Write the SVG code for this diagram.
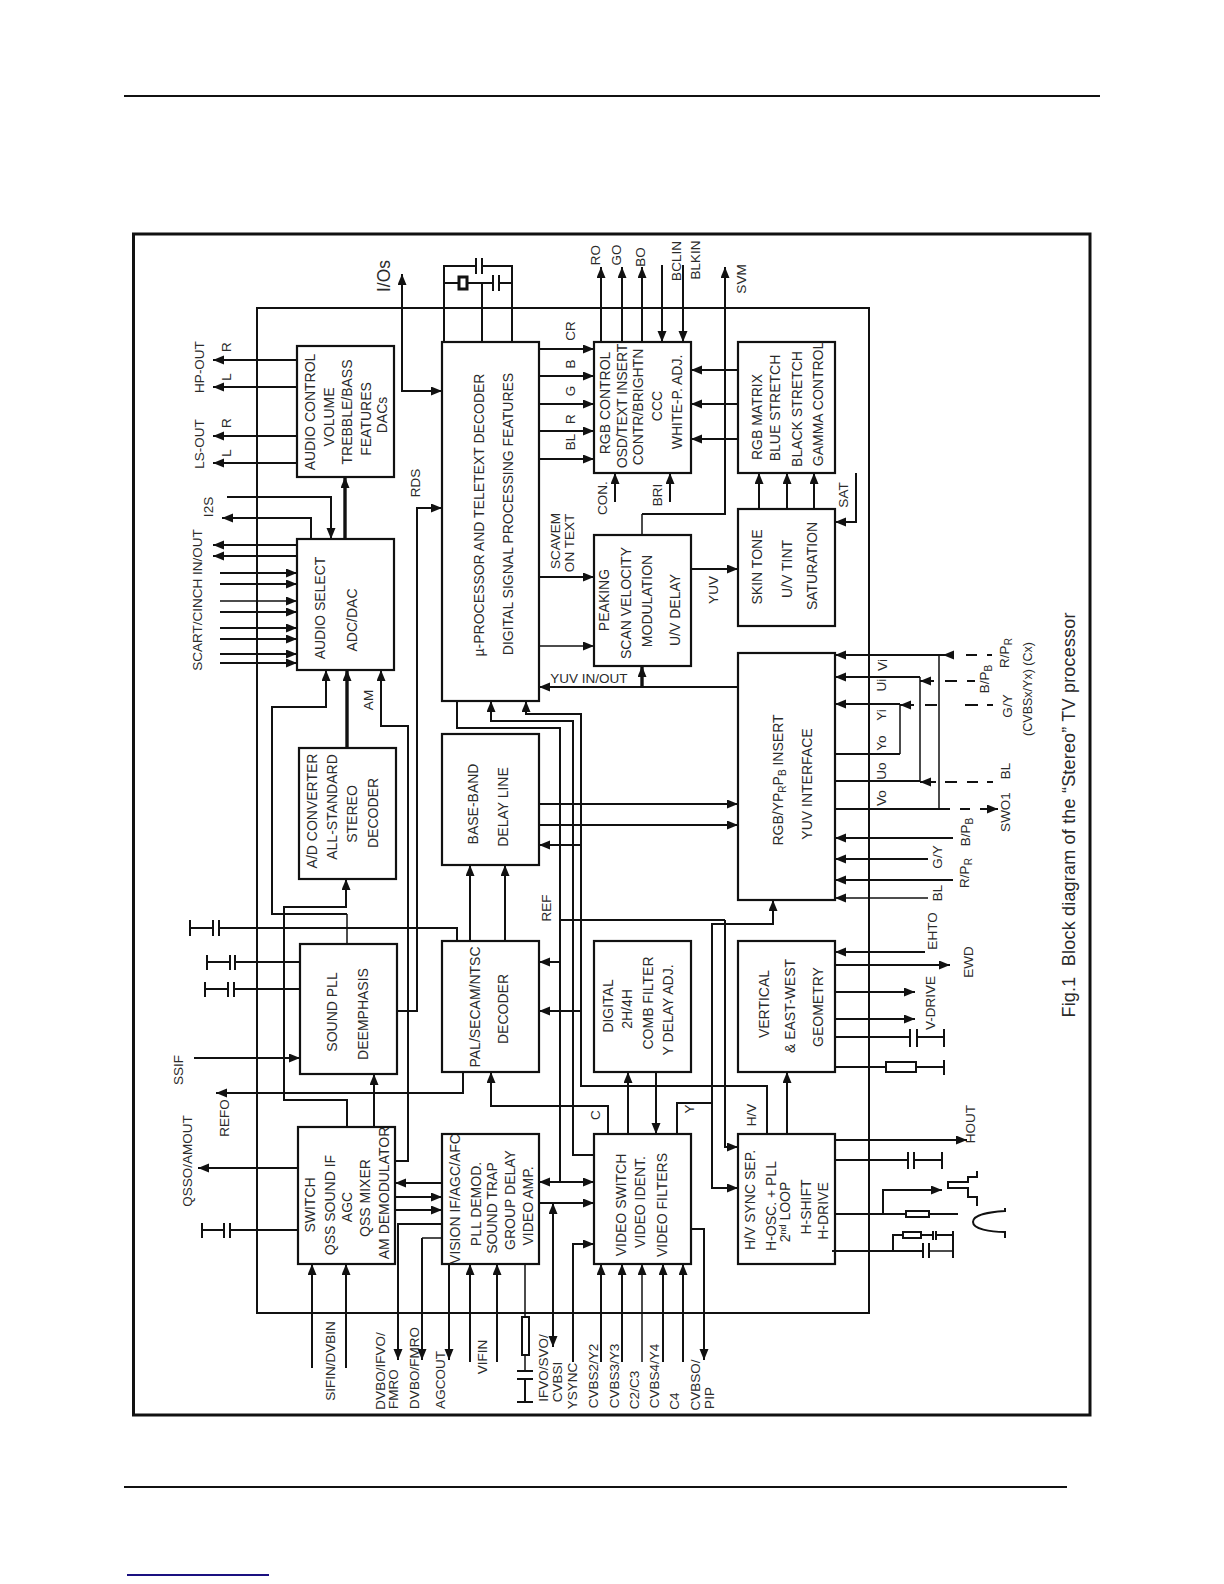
<svg xmlns="http://www.w3.org/2000/svg" width="1224" height="1584" viewBox="0 0 1224 1584">
<style>
text{font-family:"Liberation Sans",Arial,sans-serif;font-size:14px;fill:#2a2a2a;text-anchor:middle}
text.l{font-size:13.5px}
text.s{font-size:12.5px}
.box{fill:none;stroke:#111;stroke-width:2.2}
path{fill:none;stroke:#111;stroke-width:2}
.n{stroke-width:1.5}
.k{stroke-width:3.4}
.a{marker-end:url(#h)}
.b{marker-start:url(#h);marker-end:url(#h)}
.c{fill:#fff;stroke:#111;stroke-width:2}
.r{fill:none;stroke:#111;stroke-width:2}
</style>
<defs>
<marker id="h" markerUnits="userSpaceOnUse" markerWidth="12" markerHeight="10" refX="11" refY="4.500" orient="auto-start-reverse"><polygon points="0,0 11,4.500 0,9" fill="#111"/></marker>
</defs>
<rect width="1224" height="1584" fill="#fff"/>
<g id="page-rules">
<path d="M124 96H1100"/>
<path d="M124 1487H1067"/>
<path d="M127 1575H269" style="stroke:#1a1080"/>
</g>
<rect id="frame" x="133.500" y="234" width="956.500" height="1181" fill="none" stroke="#111" stroke-width="3"/>
<rect id="chip" x="257" y="308" width="612" height="1005" fill="none" stroke="#111" stroke-width="2"/>

<g id="connectors">
<path class="a" d="M297 360H213"/><path class="a" d="M297 387H213"/><path class="a" d="M297 436H213"/><path class="a" d="M297 463H213"/>
<path class="k a" d="M345 539V477"/>
<path class="a" d="M227 497H331V539"/>
<path class="a" d="M311 539V518H222"/>
<path class="a" d="M297 545H213"/><path class="a" d="M297 556H213"/>
<path class="a" d="M220 573H297"/><path class="a" d="M220 584H297"/><path class="n a" d="M220 601H297"/><path class="a" d="M220 612H297"/>
<path class="a" d="M220 628H297"/><path class="a" d="M220 639H297"/><path class="a" d="M220 654H297"/><path class="a" d="M220 663H297"/>
<path class="n" d="M347 944V914"/><path class="a" d="M347 914H272V707H326V670"/>
<path class="k a" d="M347 748V670"/>
<path class="a" d="M395 1161H408V726H381V670"/>
<path class="a" d="M397 1011H417V508H442"/>
<path class="a" d="M347 1127V1100H284V907H346V879"/>
<path class="a" d="M374 1127V1074"/>
<path class="b" d="M442 391H402V274"/>
<path d="M444 342V266H476M482 266H512V342"/>
<path d="M476 258V274M482 258V274"/>
<path d="M444 283H458M468 283H493M499 283H512M482 283V342"/>
<path d="M493 275V291M499 275V291"/>
<rect class="c" x="459" y="277" width="8" height="12" style="stroke-width:3"/>
<path class="a" d="M601 342V267"/><path class="a" d="M622 342V267"/><path class="a" d="M642 342V267"/>
<path class="a" d="M662 265V342"/><path class="a" d="M683 265V342"/>
<path class="n" d="M642 535V514"/><path class="a" d="M642 514H725V267"/>
<path class="a" d="M539 349H594"/><path class="a" d="M539 376H594"/><path class="a" d="M539 404H594"/><path class="a" d="M539 431H594"/><path class="a" d="M539 459H594"/>
<path class="a" d="M738 370H691"/><path class="a" d="M738 404H691"/><path class="a" d="M738 439H691"/>
<path class="a" d="M759 509V473"/><path class="a" d="M787 509V473"/><path class="a" d="M814 509V473"/>
<path class="a" d="M856 473V522H835"/>
<path class="a" d="M615 502V473"/><path class="a" d="M670 502V473"/>
<path class="a" d="M539 577H594"/><path class="n a" d="M539 646H594"/>
<path class="a" d="M691 569H738"/>
<path class="a" d="M738 687H539"/><path class="k a" d="M642 687V666"/>
<path class="b" d="M594 1182H539"/>
<path d="M457 701V728H560V1182"/>
<path class="a" d="M560 962H539"/>
<path d="M560 920H725"/>
<path class="a" d="M725 920V1147H738"/>
<path class="a" d="M712 1103V924H773V900"/>
<path class="a" d="M712 1103V1188H738"/>
<path d="M677 1134V1103H712"/>
<path class="a" d="M594 1155H573V721H491V701"/>
<path class="a" d="M767 1134V1086H581V714H526V701"/>
<path class="a" d="M581 845H539"/>
<path class="a" d="M581 1011H539"/>
<path class="a" d="M539 804H738"/><path class="a" d="M539 825H738"/>
<path class="a" d="M470 941V865"/><path class="a" d="M505 941V865"/>
<path class="a" d="M628 1134V1072"/><path class="a" d="M656 1072V1134"/>
<path class="a" d="M608 1134V1106H491V1072"/>
<path class="a" d="M787 1134V1072"/>
<path class="a" d="M943 655H835"/><path class="a" d="M954 655H943"/>
<path class="n" d="M939 655V809"/>
<path d="M835 809H950M960 809H970"/><path class="a" d="M980 809H998"/>
<path class="a" d="M920 677H835"/><path class="n" d="M920 677V781"/><path d="M835 781H920"/>
<path class="a" d="M900 704H835"/><path class="n" d="M900 704V754"/><path d="M835 754H900"/>
<path d="M966 655H977M987 655H992"/>
<path class="a" d="M934 681H920"/><path d="M945 681H957M967 681H975"/>
<path class="a" d="M914 705H900"/><path d="M925 705H937M965 705H978M987 705H993"/>
<path class="a" d="M936 782H920"/><path d="M945 782H957M967 782H978M987 782H993"/>
<path class="a" d="M953 838H835"/><path class="a" d="M928 859H835"/><path class="a" d="M953 880H835"/><path class="n a" d="M928 898H835"/>
<path class="a" d="M925 952H835"/><path class="a" d="M835 965H950"/><path class="a" d="M835 992H915"/><path class="a" d="M835 1019H915"/>
<path d="M835 1037H910M917 1037H944M910 1029V1047M917 1029V1047M944 1029V1047"/>
<path d="M835 1067H886M916 1067H944M944 1060V1075"/>
<rect class="r" x="886" y="1062" width="30" height="10"/>
<path class="a" d="M835 1140H967"/>
<path d="M835 1160H908M914 1160H942M908 1152V1169M914 1152V1169M942 1152V1169"/>
<path d="M835 1214H906M929 1214H958"/>
<rect class="r" x="906" y="1211" width="23" height="6"/>
<path class="a" d="M883 1214V1190H942"/>
<path d="M977 1171V1177H968V1182H948V1188H968V1197H977V1206"/>
<path d="M1005 1208V1211C990 1212 973 1214 973 1222C973 1229 990 1232 1005 1232V1238"/>
<path d="M832 1251H923M893 1251V1235H903M921 1235H933M936 1235H953M923 1243V1258M929 1243V1258M933 1231V1240M936 1231V1240"/>
<path d="M953 1231V1258"/><path class="n" d="M929 1251H953"/>
<rect class="r" x="903" y="1232" width="18" height="6"/>
<path class="a" d="M601 1362V1264"/><path class="a" d="M622 1362V1264"/><path class="n a" d="M642 1362V1264"/><path class="a" d="M663 1362V1264"/><path class="a" d="M683 1362V1264"/>
<path class="a" d="M691 1229H704V1360"/>
<path class="a" d="M573 1362V1244H594"/>
<path class="b" d="M553 1203V1347"/>
<path class="a" d="M539 1203H594"/>
<path d="M457 941V928H219M213 928H190M213 920V936M219 920V936M190 920V936"/>
<path d="M300 962H235M230 962H207M230 955V970M235 955V970M207 955V970"/>
<path d="M300 989H234M228 989H205M228 982V997M234 982V997M205 982V997"/>
<path class="a" d="M194 1058H300"/>
<path class="a" d="M463 1072V1093H216"/>
<path class="a" d="M298 1168H198"/>
<path d="M298 1230H230M224 1230H202M224 1223V1238M230 1223V1238M202 1223V1238"/>
<path class="a" d="M312 1368V1264"/><path class="a" d="M346 1368V1264"/>
<path class="a" d="M442 1183H395"/><path class="a" d="M395 1197H442"/><path class="a" d="M395 1210H442"/>
<path class="a" d="M442 1224H398V1360"/>
<path class="n" d="M442 1238H422"/><path class="a" d="M422 1238V1360"/>
<path class="a" d="M449 1264V1360"/>
<path class="a" d="M470 1362V1264"/><path class="a" d="M497 1362V1264"/>
<path class="n" d="M525 1264V1317M525 1355V1371"/>
<path d="M525 1379V1402M517 1371H533M517 1379H533M517 1402H533"/>
<rect class="r" x="522" y="1317" width="7" height="38"/>
</g>

<g id="audio-control"><rect class="box" x="297" y="346" width="97" height="131"/>
<text transform="translate(315 412) rotate(-90)">AUDIO CONTROL</text>
<text transform="translate(334 417) rotate(-90)">VOLUME</text>
<text transform="translate(352 412) rotate(-90)">TREBBLE/BASS</text>
<text transform="translate(371 419) rotate(-90)">FEATURES</text>
<text transform="translate(387 415) rotate(-90)">DACs</text></g>
<g id="audio-select"><rect class="box" x="297" y="539" width="97" height="131"/>
<text transform="translate(325 608) rotate(-90)">AUDIO SELECT</text>
<text transform="translate(357 620) rotate(-90)">ADC/DAC</text></g>
<g id="ad-converter"><rect class="box" x="299" y="748" width="97" height="131"/>
<text transform="translate(317 811) rotate(-90)">A/D CONVERTER</text>
<text transform="translate(337 807) rotate(-90)">ALL-STANDARD</text>
<text transform="translate(357 814) rotate(-90)">STEREO</text>
<text transform="translate(378 813) rotate(-90)">DECODER</text></g>
<g id="sound-pll"><rect class="box" x="300" y="944" width="97" height="130"/>
<text transform="translate(337 1012) rotate(-90)">SOUND PLL</text>
<text transform="translate(368 1014) rotate(-90)">DEEMPHASIS</text></g>
<g id="qss"><rect class="box" x="298" y="1127" width="97" height="137"/>
<text transform="translate(315 1205) rotate(-90)">SWITCH</text>
<text transform="translate(335 1205) rotate(-90)">QSS SOUND IF</text>
<text transform="translate(352 1207) rotate(-90)">AGC</text>
<text transform="translate(370 1198) rotate(-90)">QSS MIXER</text>
<text transform="translate(389 1193) rotate(-90)">AM DEMODULATOR</text></g>
<g id="processor"><rect class="box" x="442" y="342" width="97" height="359"/>
<text transform="translate(484 515) rotate(-90)">µ-PROCESSOR AND TELETEXT DECODER</text>
<text transform="translate(513 514) rotate(-90)">DIGITAL SIGNAL PROCESSING FEATURES</text></g>
<g id="baseband"><rect class="box" x="442" y="734" width="97" height="131"/>
<text transform="translate(478 804) rotate(-90)">BASE-BAND</text>
<text transform="translate(508 807) rotate(-90)">DELAY LINE</text></g>
<g id="pal-decoder"><rect class="box" x="442" y="941" width="97" height="131"/>
<text transform="translate(480 1007) rotate(-90)">PAL/SECAM/NTSC</text>
<text transform="translate(508 1009) rotate(-90)">DECODER</text></g>
<g id="vision-if"><rect class="box" x="442" y="1134" width="97" height="130"/>
<text transform="translate(460 1199) rotate(-90)">VISION IF/AGC/AFC</text>
<text transform="translate(481 1204) rotate(-90)">PLL DEMOD.</text>
<text transform="translate(497 1208) rotate(-90)">SOUND TRAP</text>
<text transform="translate(515 1200) rotate(-90)">GROUP DELAY</text>
<text transform="translate(533 1206) rotate(-90)">VIDEO AMP.</text></g>
<g id="rgb-control"><rect class="box" x="594" y="342" width="97" height="131"/>
<text transform="translate(610 403) rotate(-90)">RGB CONTROL</text>
<text transform="translate(627 406) rotate(-90)">OSD/TEXT INSERT</text>
<text transform="translate(643 407) rotate(-90)">CONTR/BRIGHTN</text>
<text transform="translate(662 406) rotate(-90)">CCC</text>
<text transform="translate(682 402) rotate(-90)">WHITE-P. ADJ.</text></g>
<g id="peaking"><rect class="box" x="594" y="535" width="97" height="131"/>
<text transform="translate(609 600) rotate(-90)">PEAKING</text>
<text transform="translate(631 603) rotate(-90)">SCAN VELOCITY</text>
<text transform="translate(652 601) rotate(-90)">MODULATION</text>
<text transform="translate(680 610) rotate(-90)">U/V DELAY</text></g>
<g id="comb-filter"><rect class="box" x="594" y="941" width="97" height="131"/>
<text transform="translate(613 1006) rotate(-90)">DIGITAL</text>
<text transform="translate(632 1009) rotate(-90)">2H/4H</text>
<text transform="translate(653 1003) rotate(-90)">COMB FILTER</text>
<text transform="translate(673 1010) rotate(-90)">Y DELAY ADJ.</text></g>
<g id="video-switch"><rect class="box" x="594" y="1134" width="97" height="130"/>
<text transform="translate(626 1205) rotate(-90)">VIDEO SWITCH</text>
<text transform="translate(645 1202) rotate(-90)">VIDEO IDENT.</text>
<text transform="translate(667 1205) rotate(-90)">VIDEO FILTERS</text></g>
<g id="rgb-matrix"><rect class="box" x="738" y="342" width="97" height="131"/>
<text transform="translate(762 417) rotate(-90)">RGB MATRIX</text>
<text transform="translate(780 408) rotate(-90)">BLUE STRETCH</text>
<text transform="translate(802 409) rotate(-90)">BLACK STRETCH</text>
<text transform="translate(823 404) rotate(-90)">GAMMA CONTROL</text></g>
<g id="skin-tone"><rect class="box" x="738" y="509" width="97" height="117"/>
<text transform="translate(762 567) rotate(-90)">SKIN TONE</text>
<text transform="translate(792 569) rotate(-90)">U/V TINT</text>
<text transform="translate(817 566) rotate(-90)">SATURATION</text></g>
<g id="yuv-interface"><rect class="box" x="738" y="653" width="97" height="247"/>
<text transform="translate(783 780) rotate(-90)">RGB/YP<tspan dy="3" font-size="10">R</tspan><tspan dy="-3">P</tspan><tspan dy="3" font-size="10">B</tspan><tspan dy="-3"> INSERT</tspan></text>
<text transform="translate(812 784) rotate(-90)">YUV INTERFACE</text></g>
<g id="vertical"><rect class="box" x="738" y="941" width="97" height="131"/>
<text transform="translate(769 1004) rotate(-90)">VERTICAL</text>
<text transform="translate(795 1006) rotate(-90)">&amp; EAST-WEST</text>
<text transform="translate(823 1007) rotate(-90)">GEOMETRY</text></g>
<g id="hv-sync"><rect class="box" x="738" y="1134" width="97" height="130"/>
<text transform="translate(755 1200) rotate(-90)">H/V SYNC SEP.</text>
<text transform="translate(776 1206) rotate(-90)">H-OSC. + PLL</text>
<text transform="translate(790 1212) rotate(-90)">2<tspan dy="-4" font-size="9">nd</tspan><tspan dy="4"> LOOP</tspan></text>
<text transform="translate(811 1207) rotate(-90)">H-SHIFT</text>
<text transform="translate(828 1211) rotate(-90)">H-DRIVE</text></g>

<g id="labels">
<text class="l" transform="translate(204 367) rotate(-90)">HP-OUT</text>
<text class="l" transform="translate(204 444) rotate(-90)">LS-OUT</text>
<text class="l" transform="translate(231 347) rotate(-90)">R</text>
<text class="l" transform="translate(231 377) rotate(-90)">L</text>
<text class="l" transform="translate(231 423) rotate(-90)">R</text>
<text class="l" transform="translate(231 453) rotate(-90)">L</text>
<text class="l" transform="translate(213 507) rotate(-90)">I2S</text>
<text class="l" transform="translate(202 600) rotate(-90)">SCART/CINCH IN/OUT</text>
<text transform="translate(390 276) rotate(-90)" style="font-size:17.500px">I/Os</text>
<text class="l" transform="translate(420 483) rotate(-90)">RDS</text>
<text class="l" transform="translate(373 700) rotate(-90)">AM</text>
<text class="l" transform="translate(600 255) rotate(-90)">RO</text>
<text class="l" transform="translate(621 255) rotate(-90)">GO</text>
<text class="l" transform="translate(645 257) rotate(-90)">BO</text>
<text class="l" transform="translate(681 261) rotate(-90)">BCLIN</text>
<text class="l" transform="translate(700 260) rotate(-90)">BLKIN</text>
<text class="l" transform="translate(746 279) rotate(-90)">SVM</text>
<text class="l" transform="translate(575 331) rotate(-90)">CR</text>
<text class="l" transform="translate(575 364) rotate(-90)">B</text>
<text class="l" transform="translate(575 391) rotate(-90)">G</text>
<text class="l" transform="translate(575 419) rotate(-90)">R</text>
<text class="l" transform="translate(575 442) rotate(-90)">BL</text>
<text class="l" transform="translate(607 498) rotate(-90)">CON.</text>
<text class="l" transform="translate(662 495) rotate(-90)">BRI</text>
<text class="l" transform="translate(848 495) rotate(-90)">SAT</text>
<text class="l" transform="translate(560 541) rotate(-90)">SCAVEM</text>
<text class="l" transform="translate(574 543) rotate(-90)">ON TEXT</text>
<text class="l" transform="translate(718 590) rotate(-90)">YUV</text>
<text class="l" x="589" y="683">YUV IN/OUT</text>
<text class="l" transform="translate(887 665) rotate(-90)">Vi</text>
<text class="l" transform="translate(886 685) rotate(-90)">Ui</text>
<text class="l" transform="translate(886 715) rotate(-90)">Yi</text>
<text class="l" transform="translate(886 743) rotate(-90)">Yo</text>
<text class="l" transform="translate(886 771) rotate(-90)">Uo</text>
<text class="l" transform="translate(886 798) rotate(-90)">Vo</text>
<text class="l" transform="translate(1009 653) rotate(-90)">R/P<tspan dy="3" font-size="10">R</tspan></text>
<text class="l" transform="translate(989 679) rotate(-90)">B/P<tspan dy="3" font-size="10">B</tspan></text>
<text class="l" transform="translate(1012 706) rotate(-90)">G/Y</text>
<text class="s" transform="translate(1032 689) rotate(-90)">(CVBSx/Yx) (Cx)</text>
<text class="l" transform="translate(1010 771) rotate(-90)">BL</text>
<text class="l" transform="translate(1010 812) rotate(-90)">SWO1</text>
<text class="l" transform="translate(970 832) rotate(-90)">B/P<tspan dy="3" font-size="10">B</tspan></text>
<text class="l" transform="translate(942 857) rotate(-90)">G/Y</text>
<text class="l" transform="translate(969 873) rotate(-90)">R/P<tspan dy="3" font-size="10">R</tspan></text>
<text class="l" transform="translate(942 893) rotate(-90)">BL</text>
<text class="l" transform="translate(551 908) rotate(-90)">REF</text>
<text class="l" transform="translate(937 931) rotate(-90)">EHTO</text>
<text class="l" transform="translate(973 962) rotate(-90)">EWD</text>
<text class="l" transform="translate(935 1003) rotate(-90)">V-DRIVE</text>
<text transform="translate(1075 815) rotate(-90)" style="font-size:18px" textLength="405">Fig.1 &#160;Block diagram of the “Stereo” TV processor</text>
<text class="l" transform="translate(183 1070) rotate(-90)">SSIF</text>
<text class="l" transform="translate(229 1118) rotate(-90)">REFO</text>
<text class="l" transform="translate(192 1161) rotate(-90)">QSSO/AMOUT</text>
<text class="l" transform="translate(600 1115) rotate(-90)">C</text>
<text class="l" transform="translate(694 1109) rotate(-90)">Y</text>
<text class="l" transform="translate(756 1115) rotate(-90)">H/V</text>
<text class="l" transform="translate(975 1124) rotate(-90)">HOUT</text>
<text class="l" transform="translate(335 1361) rotate(-90)">SIFIN/DVBIN</text>
<text class="l" transform="translate(385 1371) rotate(-90)">DVBO/IFVO/</text>
<text class="l" transform="translate(398 1389) rotate(-90)">FMRO</text>
<text class="l" transform="translate(419 1368) rotate(-90)">DVBO/FMRO</text>
<text class="l" transform="translate(445 1380) rotate(-90)">AGCOUT</text>
<text class="l" transform="translate(487 1357) rotate(-90)">VIFIN</text>
<text class="l" transform="translate(548 1368) rotate(-90)">IFVO/SVO/</text>
<text class="l" transform="translate(562 1382) rotate(-90)">CVBSI</text>
<text class="l" transform="translate(577 1386) rotate(-90)">YSYNC</text>
<text class="l" transform="translate(598 1376) rotate(-90)">CVBS2/Y2</text>
<text class="l" transform="translate(619 1376) rotate(-90)">CVBS3/Y3</text>
<text class="l" transform="translate(639 1390) rotate(-90)">C2/C3</text>
<text class="l" transform="translate(659 1376) rotate(-90)">CVBS4/Y4</text>
<text class="l" transform="translate(679 1401) rotate(-90)">C4</text>
<text class="l" transform="translate(700 1385) rotate(-90)">CVBSO/</text>
<text class="l" transform="translate(714 1398) rotate(-90)">PIP</text>
</g>
</svg>
